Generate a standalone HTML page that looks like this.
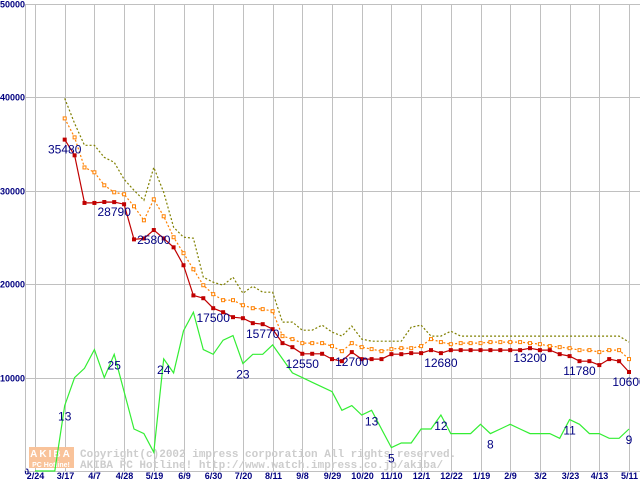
<!DOCTYPE html>
<html><head><meta charset="utf-8">
<style>
html,body{margin:0;padding:0;background:#fff;}
svg{display:block;font-family:"Liberation Sans",sans-serif;}
</style></head>
<body>
<svg id="chart" width="640" height="480" viewBox="0 0 640 480" xmlns="http://www.w3.org/2000/svg">
<rect x="0" y="0" width="640" height="480" fill="#fff"/>
<g id="grid"></g>
<g id="watermark">
 <rect x="29" y="447" width="45" height="21" fill="#f9c39a"/>
 <text x="51" y="457" font-size="10" font-weight="bold" fill="#fff" text-anchor="middle" letter-spacing="2">AKIBA</text>
 <text x="51" y="467" font-size="7" font-weight="bold" fill="#fff" text-anchor="middle">PC Hotline!</text>
 <text x="80" y="457" font-family="Liberation Mono, monospace" font-size="11" font-weight="bold" fill="#cdcdcd">Copyright(c)2002 impress corporation All rights reserved.</text>
 <text x="80" y="468" font-family="Liberation Mono, monospace" font-size="11" font-weight="bold" fill="#cdcdcd">AKIBA PC Hotline!  http://www.watch.impress.co.jp/akiba/</text>
</g>
<g id="series"></g>
<g id="labels"></g>
</svg>
<script>
const yTicks = [0, 10000, 20000, 30000, 40000, 50000];
const xTickLabels = ["2/24","3/17","4/7","4/28","5/19","6/9","6/30","7/20","8/11","9/8","9/29","10/20","11/10","12/1","12/22","1/19","2/9","3/2","3/23","4/13","5/11"];
const startWeek = 3;
const minPrice = [35480,33800,28700,28700,28800,28790,28560,24800,24900,25800,24900,23950,22030,18800,18500,17430,17000,16470,16360,15830,15720,15190,13690,13260,12550,12550,12550,11980,11760,12730,11980,11980,11980,12510,12510,12620,12620,12940,12620,12940,12940,12940,12940,12940,12940,12940,12940,13150,12940,12940,12510,12300,11760,11760,11340,11980,11760,10600];
const avgPrice = [37750,35720,32500,31980,30590,29840,29630,28340,26840,29090,27270,25030,23320,21600,19890,18930,18290,18290,17750,17430,17330,17110,14440,14120,13690,13690,13690,13370,12830,13690,13260,13050,12830,13050,13150,13150,13370,14120,13800,13580,13690,13690,13690,13800,13800,13800,13800,13690,13580,13370,13260,13150,12940,12940,12730,12940,12940,11980];
const maxPrice = [39890,37220,34870,34870,33580,33050,31230,30050,28980,32510,29840,26100,25030,24920,20750,20210,19890,20750,19040,19790,19140,19140,15940,15940,15080,15080,15620,14870,14440,15510,14120,13900,13900,13900,13900,15400,15620,14440,14440,14970,14440,14440,14440,14440,14440,14440,14440,14440,14440,14440,14440,14440,14440,14440,14440,14440,14440,13800];
const shopCount = [0,0,0,14,20,22,26,20,25,17,9,8,4,24,21,30,34,26,25,28,29,23,25,25,27,24,21,20,19,18,17,13,14,12,13,9,5,6,6,9,9,12,8,8,8,10,8,9,10,9,8,8,8,7,11,10,8,8,7,7,9];
const priceLabelWeeks = [3,8,12,18,23,27,32,41,50,55,60];
const priceLabelText = ["35480","28790","25800","17500","15770","12550","12700","12680","13200","11780","10600"];
const countLabelWeeks = [3,8,13,21,34,36,41,46,54,60];
const countLabelText = ["13","25","24","23","13","5","12","8","11","9"];

const NS = "http://www.w3.org/2000/svg";
const X0 = 35, WEEK = 9.9, Y0 = 471, YTOP = 4, YMAX = 50000, COUNTMAX = 100;
function xw(w){ return X0 + w*WEEK; }
function yp(v){ return Y0 - v/YMAX*(Y0-YTOP); }
function yc(v){ return Y0 - v/COUNTMAX*(Y0-YTOP); }
function mk(tag, attrs, parent){ const e=document.createElementNS(NS,tag); for(const k in attrs) e.setAttribute(k,attrs[k]); parent.appendChild(e); return e; }

const grid = document.getElementById('grid');
const series = document.getElementById('series');
const labels = document.getElementById('labels');

yTicks.forEach(v=>{
  const y = Math.round(yp(v))+0.5;
  const l = mk('line',{x1:25,x2:640,y1:y,y2:y,stroke:'#c0c0c0','stroke-width':1},grid);
  
  
  const t = mk('text',{x:v===0?29:25,y:y+3,'font-size':v===0?8:9,'font-weight':'bold',fill:'#000080','text-anchor':'end'},grid);
  t.textContent = String(v);
  
  
});
const ax = mk('line',{x1:25.5,x2:25.5,y1:4,y2:471,stroke:'#c0c0c0'},grid);


xTickLabels.forEach((lab,i)=>{
  const x = Math.round(xw(i*3))+0.5;
  const l = mk('line',{x1:x,x2:x,y1:4,y2:471,stroke:'#c0c0c0','stroke-width':1},grid);
  
  
  const t = mk('text',{x:x,y:479,'font-size':9,'font-weight':'bold',fill:'#000080','text-anchor':'middle'},grid);
  t.textContent = lab;
  
  
});

function pts(arr, start, yf){ return arr.map((v,i)=>xw(start+i).toFixed(1)+','+yf(v).toFixed(1)).join(' '); }

const g1 = mk('polyline',{points:pts(shopCount,0,yc),fill:'none',stroke:'#33ee33','stroke-width':1.2},series);


const g2 = mk('polyline',{points:pts(maxPrice,startWeek,yp),fill:'none',stroke:'#808000','stroke-width':1.2,'stroke-dasharray':'2,2'},series);


const g3 = mk('polyline',{points:pts(avgPrice,startWeek,yp),fill:'none',stroke:'#ff8000','stroke-width':1.2,'stroke-dasharray':'2,2'},series);


avgPrice.forEach((v,i)=>{
  const r = mk('rect',{x:xw(startWeek+i)-1.5,y:yp(v)-1.5,width:3,height:3,fill:'#fff',stroke:'#ff8000','stroke-width':1},series);
  
  
});
const g4 = mk('polyline',{points:pts(minPrice,startWeek,yp),fill:'none',stroke:'#c00000','stroke-width':1.2},series);


minPrice.forEach((v,i)=>{
  const r = mk('rect',{x:xw(startWeek+i)-2,y:yp(v)-2,width:4,height:4,fill:'#c00000'},series);
  
  
});
priceLabelWeeks.forEach((w,i)=>{
  const v = minPrice[w-startWeek];
  const t = mk('text',{x:xw(w),y:yp(v)+14,'font-size':12,fill:'#000080','text-anchor':'middle'},labels);
  t.textContent = priceLabelText[i];
  
  
});
countLabelWeeks.forEach((w,i)=>{
  const v = shopCount[w];
  const t = mk('text',{x:xw(w),y:yc(v)+15,'font-size':12,fill:'#000080','text-anchor':'middle'},labels);
  t.textContent = countLabelText[i];
  
  
});
</script>
</body></html>
